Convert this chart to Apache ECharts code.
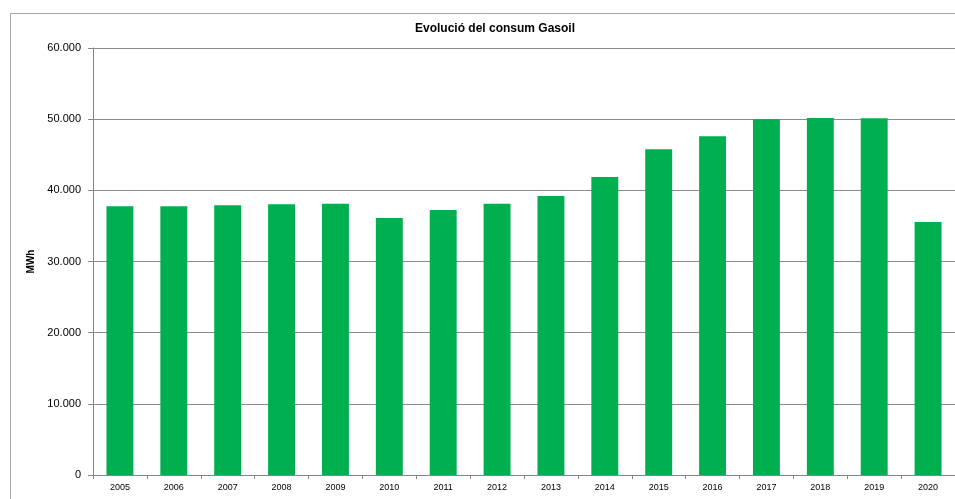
<!DOCTYPE html>
<html><head><meta charset="utf-8">
<script src="https://cdn.jsdelivr.net/npm/echarts@6/dist/echarts.min.js"></script>
<style>html,body{margin:0;padding:0;background:#fff;}#c{width:955px;height:499px;}</style>
</head><body><div id="c"></div>
<script>
var categories = ['2005','2006','2007','2008','2009','2010','2011','2012','2013','2014','2015','2016','2017','2018','2019','2020'];
var consum = [37750, 37780, 37890, 38030, 38120, 36110, 37230, 38120, 39200, 41870, 45760, 47590, 49980, 50160, 50120, 35550];
var chartTitle = 'Evolució del consum Gasoil';
var yName = 'MWh';

function fmt(v){ return String(v).replace(/\B(?=(\d{3})+(?!\d))/g, '.'); }

var chart = echarts.init(document.getElementById('c'), null, {renderer:'canvas'});
chart.setOption({
  animation: false,
  backgroundColor: '#fff',
  title: {
    text: chartTitle, left: 490, top: 18, textAlign: 'center',
    textStyle: {fontFamily: 'Liberation Sans', fontSize: 12, fontWeight: 'bold', color: '#000'}
  },
  graphic: [{
    type: 'rect', shape: {x: 10.5, y: 13.5, width: 1000, height: 600},
    style: {fill: 'none', stroke: '#a6a6a6', lineWidth: 1}, silent: true, z: 0
  }],
  grid: {left: 93, right: -2, top: 48, bottom: 24, containLabel: false},
  xAxis: {
    type: 'category', data: categories,
    axisLine: {lineStyle: {color: '#868686'}},
    axisTick: {show: true, alignWithLabel: false, length: 4, lineStyle: {color: '#868686'}},
    axisLabel: {fontFamily: 'Liberation Sans', fontSize: 9, color: '#000', margin: 8}
  },
  yAxis: {
    type: 'value', min: 0, max: 60000, interval: 10000,
    name: yName, nameLocation: 'middle', nameGap: 55, nameRotate: 90,
    nameTextStyle: {fontFamily: 'Liberation Sans', fontSize: 10, fontWeight: 'bold', color: '#000'},
    axisLine: {show: true, lineStyle: {color: '#868686'}},
    axisTick: {show: true, length: 5, lineStyle: {color: '#868686'}},
    splitLine: {lineStyle: {color: '#8c8c8c'}},
    axisLabel: {fontFamily: 'Liberation Sans', fontSize: 11, color: '#000', margin: 12, formatter: fmt}
  },
  series: [{
    type: 'bar', data: consum, barWidth: '50%',
    itemStyle: {color: '#00B050'}
  }]
});
</script></body></html>
